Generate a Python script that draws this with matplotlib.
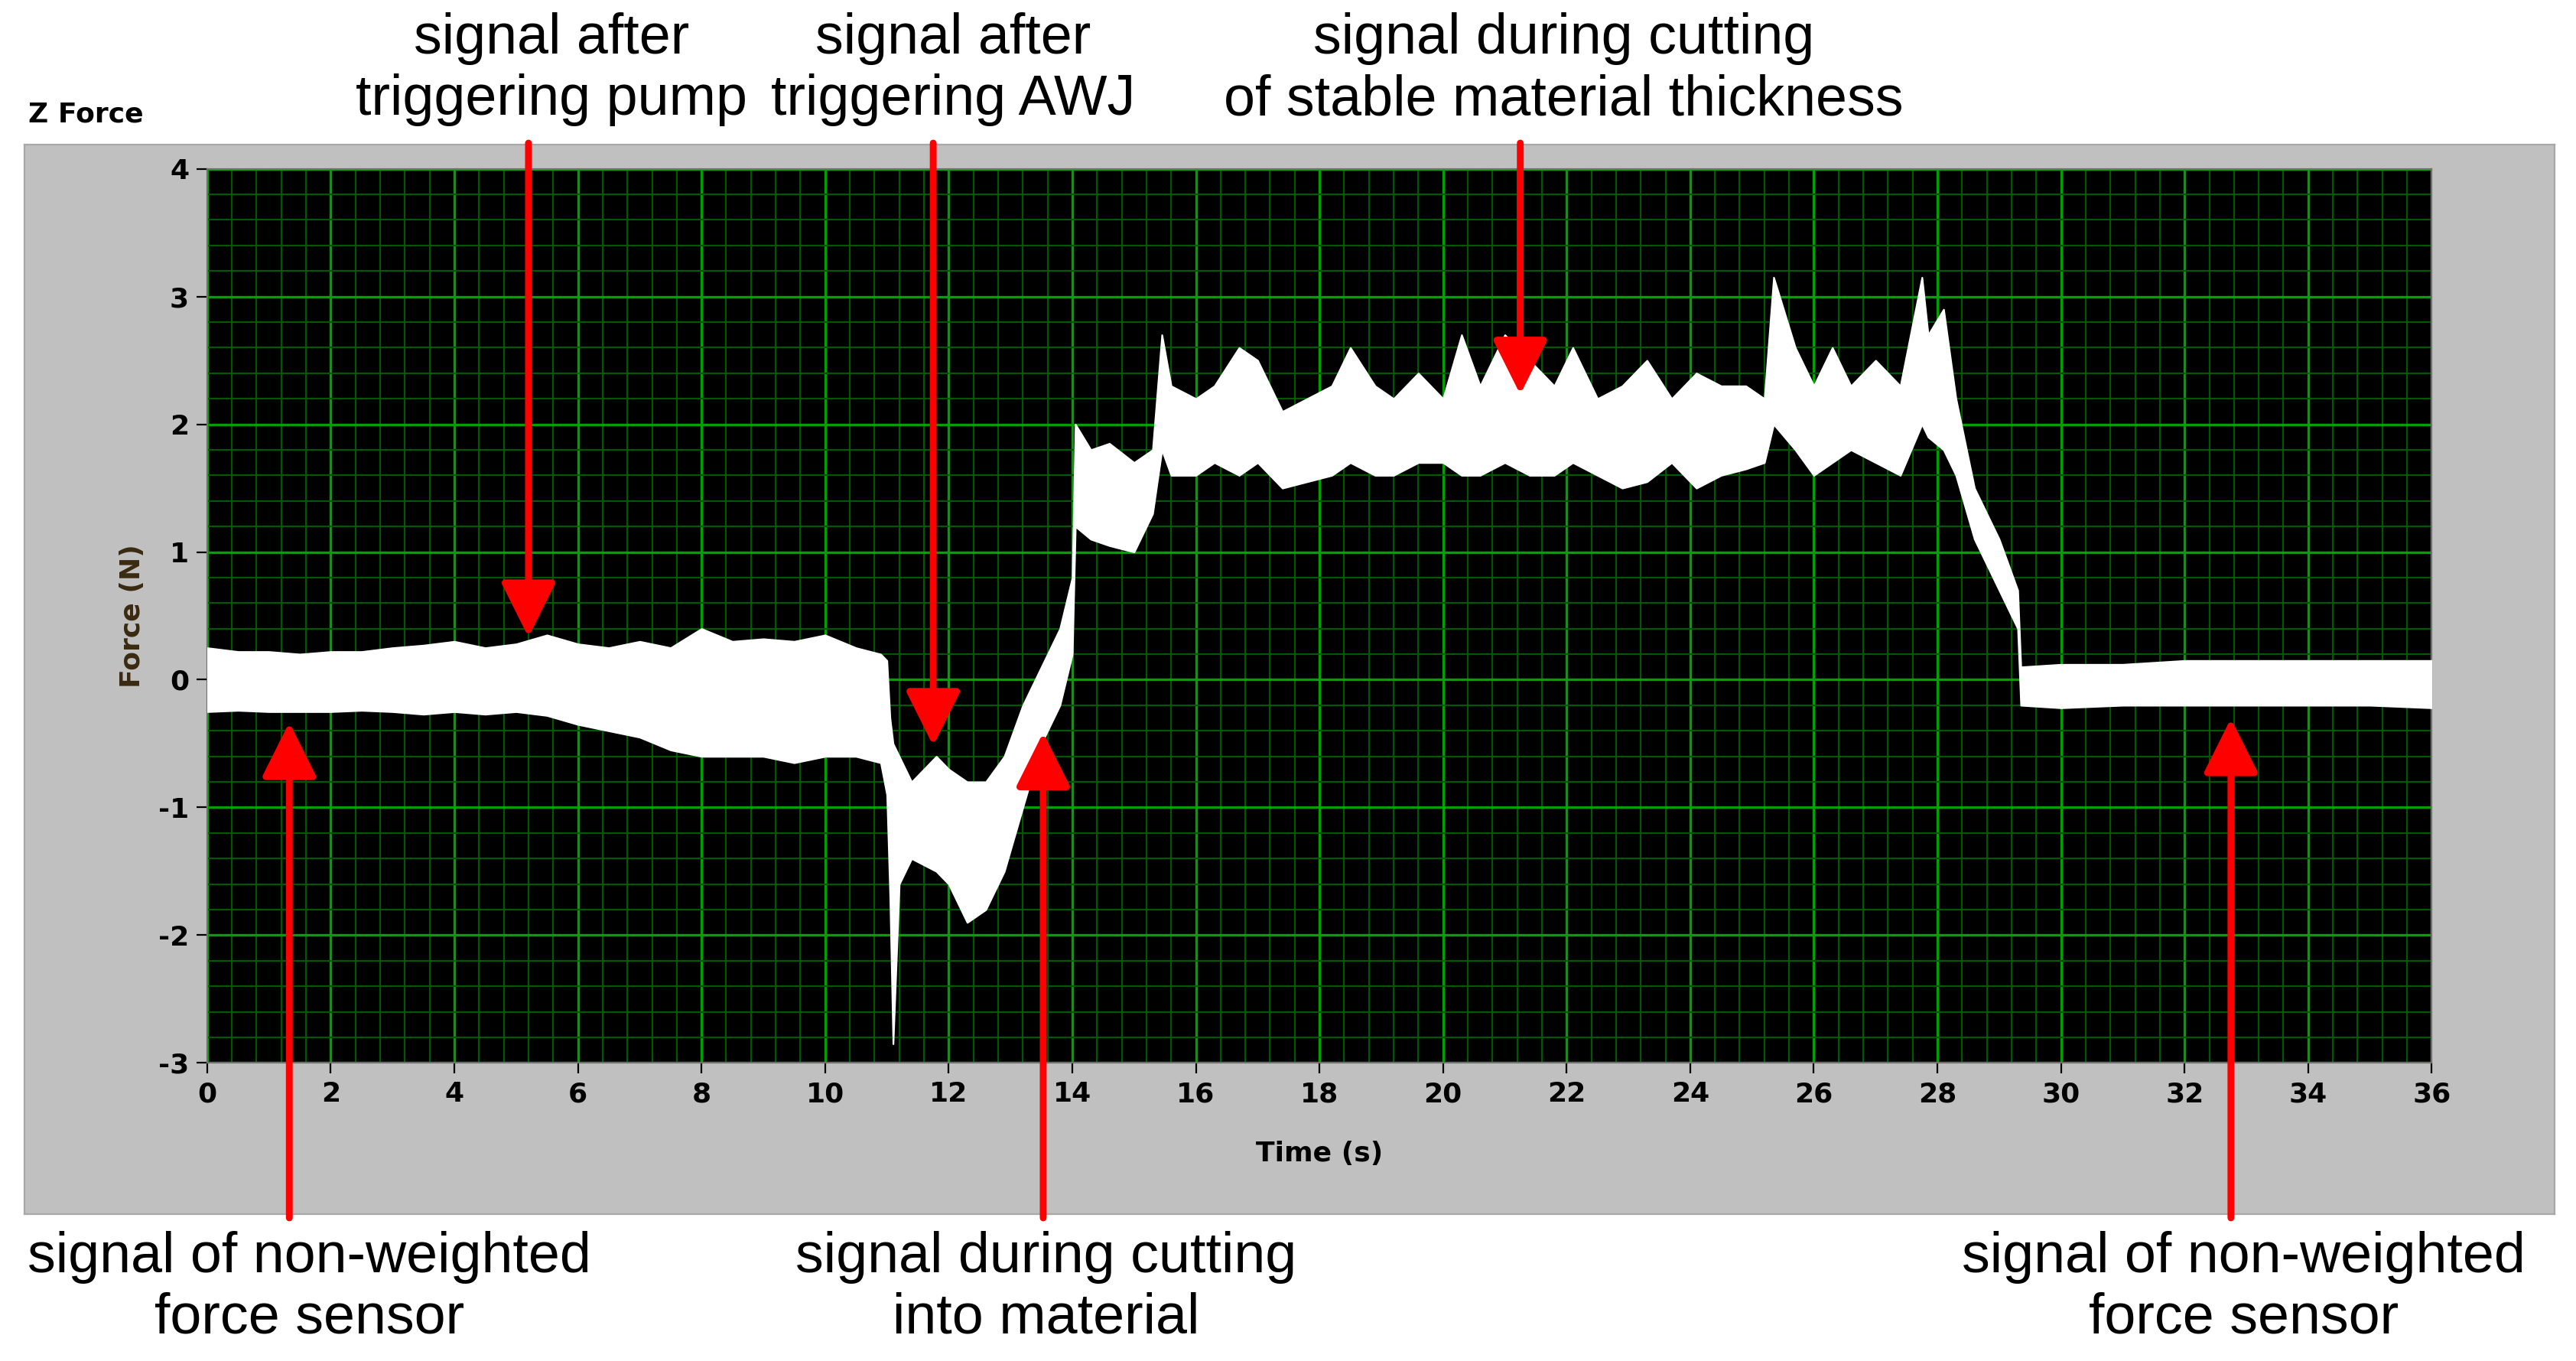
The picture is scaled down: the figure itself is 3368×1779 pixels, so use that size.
import numpy as np
import matplotlib.pyplot as plt
from matplotlib.patches import FancyArrowPatch

plt.rcParams["axes.unicode_minus"] = False

# Signal envelope (upper / lower edge of the white band)
t = [0, 0.5, 1, 1.5, 2, 2.5, 3, 3.5, 4, 4.5, 5, 5.5, 6, 6.5, 7, 7.5, 8, 8.5,
     9, 9.5, 10, 10.5, 10.9, 11.0, 11.05, 11.1, 11.2, 11.4, 11.8, 12.0, 12.3,
     12.6, 12.9, 13.2, 13.5, 13.8, 14.0, 14.05, 14.3, 14.6, 15.0, 15.3, 15.45,
     15.6, 16.0, 16.3, 16.7, 17.0, 17.4, 17.8, 18.2, 18.5, 18.9, 19.2, 19.6,
     20.0, 20.3, 20.6, 21.0, 21.4, 21.8, 22.1, 22.5, 22.9, 23.3, 23.7, 24.1,
     24.5, 24.9, 25.2, 25.35, 25.7, 26.0, 26.3, 26.6, 27.0, 27.4, 27.75, 27.85,
     28.1, 28.3, 28.6, 29.0, 29.3, 29.35, 30, 31, 32, 33, 34, 35, 36]
upper = [0.25, 0.22, 0.22, 0.2, 0.22, 0.22, 0.25, 0.27, 0.3, 0.25, 0.28, 0.35,
         0.28, 0.25, 0.3, 0.25, 0.4, 0.3, 0.32, 0.3, 0.35, 0.25, 0.2, 0.15,
         -0.3, -0.5, -0.6, -0.8, -0.6, -0.7, -0.8, -0.8, -0.6, -0.2, 0.1, 0.4,
         0.8, 2.0, 1.8, 1.85, 1.7, 1.8, 2.7, 2.3, 2.2, 2.3, 2.6, 2.5, 2.1, 2.2,
         2.3, 2.6, 2.3, 2.2, 2.4, 2.2, 2.7, 2.3, 2.7, 2.5, 2.3, 2.6, 2.2, 2.3,
         2.5, 2.2, 2.4, 2.3, 2.3, 2.2, 3.15, 2.6, 2.3, 2.6, 2.3, 2.5, 2.3, 3.15,
         2.7, 2.9, 2.2, 1.5, 1.1, 0.7, 0.1, 0.12, 0.12, 0.15, 0.15, 0.15, 0.15,
         0.15]
lower = [-0.25, -0.24, -0.25, -0.25, -0.25, -0.24, -0.25, -0.27, -0.25, -0.27,
         -0.25, -0.28, -0.35, -0.4, -0.45, -0.55, -0.6, -0.6, -0.6, -0.65,
         -0.6, -0.6, -0.65, -0.9, -1.7, -2.85, -1.6, -1.4, -1.5, -1.6, -1.9,
         -1.8, -1.5, -1.0, -0.5, -0.2, 0.2, 1.2, 1.1, 1.05, 1.0, 1.3, 1.8, 1.6,
         1.6, 1.7, 1.6, 1.7, 1.5, 1.55, 1.6, 1.7, 1.6, 1.6, 1.7, 1.7, 1.6, 1.6,
         1.7, 1.6, 1.6, 1.7, 1.6, 1.5, 1.55, 1.7, 1.5, 1.6, 1.65, 1.7, 2.0, 1.8,
         1.6, 1.7, 1.8, 1.7, 1.6, 2.0, 1.9, 1.8, 1.6, 1.1, 0.7, 0.4, -0.2,
         -0.22, -0.2, -0.2, -0.2, -0.2, -0.2, -0.22]

x_ticks = np.arange(0, 37, 2)
y_ticks = np.arange(-3, 5, 1)

# annotations: (text, text x in fig fraction, arrow x in data, arrow tip y in data, top?)
notes = [
    ("signal after\ntriggering pump", 0.214, 5.2, 0.3, True),
    ("signal after\ntriggering AWJ", 0.370, 11.75, -0.55, True),
    ("signal during cutting\nof stable material thickness", 0.607, 21.25, 2.2, True),
    ("signal of non-weighted\nforce sensor", 0.120, 1.33, -0.3, False),
    ("signal during cutting\ninto material", 0.406, 13.53, -0.38, False),
    ("signal of non-weighted\nforce sensor", 0.871, 32.75, -0.27, False),
]

fig = plt.figure(figsize=(16.84, 8.895), dpi=200)
fig.patch.set_facecolor("white")

# grey LabVIEW panel behind the plot
bg = fig.add_axes([0.0096, 0.108, 0.982, 0.786], zorder=-1)
bg.set_facecolor("#c0c0c0")
bg.set_xticks([])
bg.set_yticks([])
for s in bg.spines.values():
    s.set_color("#a8a8a8")

ax = fig.add_axes([0.0804, 0.219, 0.8636, 0.657])
ax.set_facecolor("black")
ax.fill_between(t, lower, upper, color="white", lw=0.8, edgecolor="white", zorder=3)

ax.set_xlim(0, 36)
ax.set_ylim(-3, 4)
ax.set_xticks(x_ticks)
ax.set_yticks(y_ticks)
ax.set_xticks(np.arange(0, 36.01, 0.4), minor=True)
ax.set_yticks(np.arange(-3, 4.01, 0.2), minor=True)
ax.grid(which="major", color="#00a000", lw=1.2, zorder=1)
ax.grid(which="minor", color="#005800", lw=0.8, zorder=1)
ax.tick_params(which="minor", length=0)
ax.tick_params(which="major", labelsize=13, length=5, colors="black")
for lab in ax.get_xticklabels() + ax.get_yticklabels():
    lab.set_fontweight("bold")
for s in ax.spines.values():
    s.set_color("#707070")
ax.set_xlabel("Time (s)", fontsize=13, fontweight="bold", labelpad=16)
ax.set_ylabel("Force (N)", fontsize=13, fontweight="bold", color="#3a2a10", labelpad=6)

fig.text(0.011, 0.916, "Z Force", fontsize=13, fontweight="bold", va="center")

for text, tx, ax_x, tip_y, top in notes:
    fig.text(tx, 0.949 if top else 0.054, text, ha="center", va="center",
             fontsize=26.5, family="Liberation Sans", linespacing=1.2)
    start_y = 0.898 if top else 0.102
    start = fig.transFigure.inverted().transform(ax.transData.transform((ax_x, 0)))
    tip = fig.transFigure.inverted().transform(ax.transData.transform((ax_x, tip_y)))
    arr = FancyArrowPatch((start[0], start_y), (tip[0], tip[1]), transform=fig.transFigure,
                          arrowstyle="-|>,head_length=1.0,head_width=0.5",
                          mutation_scale=22, color="#ff0000", lw=3.2, zorder=10)
    fig.patches.append(arr)

fig.savefig("out.png", dpi=200)
